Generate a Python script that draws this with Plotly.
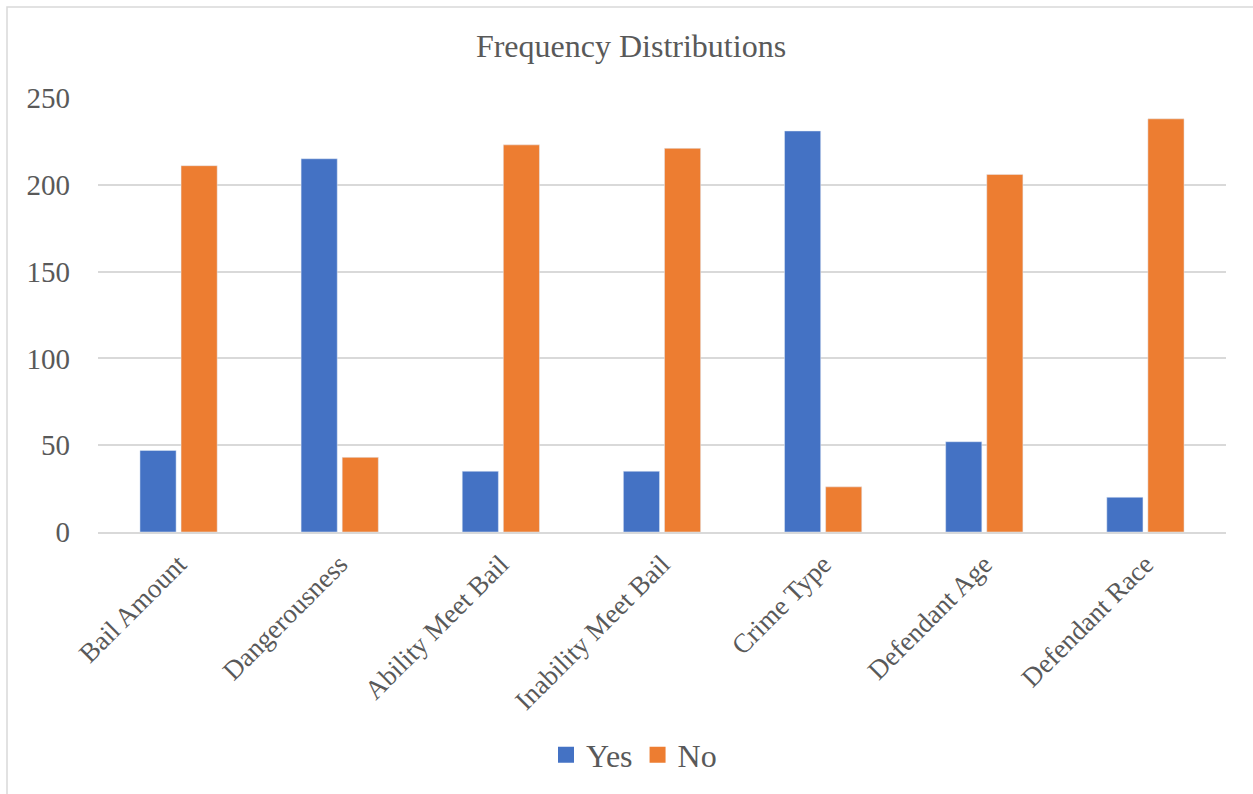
import plotly.graph_objects as go

categories = ["Bail Amount", "Dangerousness", "Ability Meet Bail", "Inability Meet Bail",
              "Crime Type", "Defendant Age", "Defendant Race"]
yes_values = [47, 215, 35, 35, 231, 52, 20]
no_values = [211, 43, 223, 221, 26, 206, 238]
y_ticks = [0, 50, 100, 150, 200, 250]
series_names = ["Yes", "No"]
series_colors = ["#4472C4", "#ED7D31"]

W, H = 1253, 794
ML, MR, MT, MB = 98, 27, 98, 262
PW, PH = W - ML - MR, H - MT - MB

FONT = "Liberation Serif, Times New Roman, serif"
TXT = "#595959"
GRID = "#D9D9D9"

fig = go.Figure()
for name, vals, col in zip(series_names, [yes_values, no_values], series_colors):
    fig.add_trace(go.Bar(name=name, x=categories, y=vals, marker_color=col,
                         showlegend=False, legendgroup=name))
# legend entries with larger square swatches
for name, col in zip(series_names, series_colors):
    fig.add_trace(go.Scatter(name=name, x=[None], y=[None], mode="markers",
                             marker=dict(symbol="square", size=16, color=col),
                             showlegend=True, legendgroup=name))

fig.update_layout(
    width=W, height=H,
    margin=dict(l=ML, r=MR, t=MT, b=MB, autoexpand=False),
    paper_bgcolor="white", plot_bgcolor="white",
    barmode="group", bargap=0.49, bargroupgap=0.12,
    font=dict(family=FONT, color=TXT),
    title=dict(text="Frequency Distributions", x=631 / W, xanchor="center",
               y=1 - 46 / H, yanchor="middle", yref="container",
               font=dict(size=32, color=TXT, family=FONT)),
    legend=dict(orientation="h", x=(634 - ML) / PW, xanchor="center",
                y=(532 - 755) / PH, yanchor="middle",
                font=dict(size=32, color=TXT, family=FONT),
                traceorder="normal", itemwidth=30, tracegroupgap=0),
    showlegend=True,
)
fig.update_yaxes(range=[0, 250], tickvals=y_ticks, showgrid=True, gridcolor=GRID, gridwidth=1.5,
                 zeroline=False, showline=False, ticks="",
                 tickfont=dict(size=29, color=TXT, family=FONT), ticklabelstandoff=27)
fig.update_xaxes(showline=True, linecolor=GRID, linewidth=1.5, ticks="",
                 tickangle=-45, tickfont=dict(size=27, color=TXT, family=FONT),
                 ticklabelstandoff=4, ticklabelshift=0)
fig.add_shape(type="rect", xref="paper", yref="paper",
              x0=(7 - ML) / PW, x1=(1400 - ML) / PW,
              y0=(MT + PH - 1000) / PH, y1=(MT + PH - 7) / PH,
              line=dict(color=GRID, width=1.5), fillcolor="rgba(0,0,0,0)", layer="below")
fig.write_html("out.html")
